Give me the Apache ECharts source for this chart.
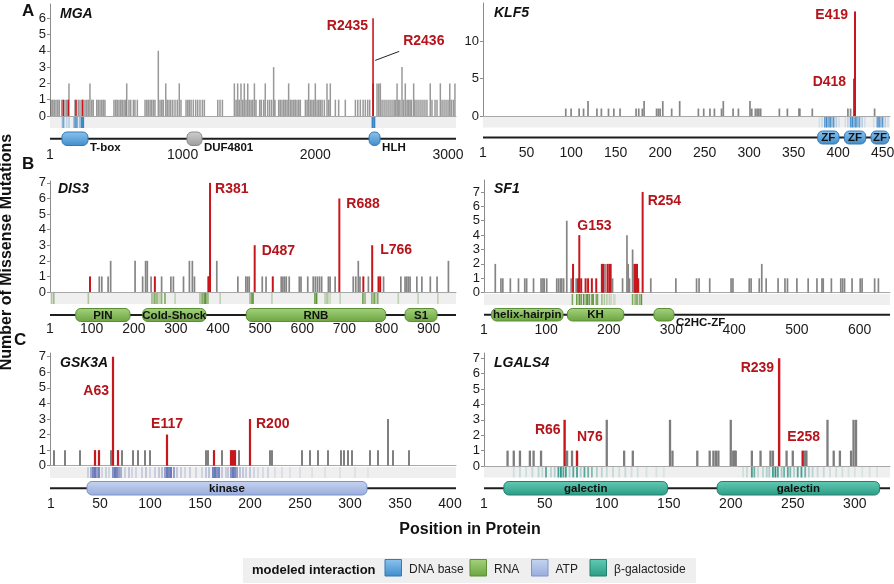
<!DOCTYPE html>
<html><head><meta charset="utf-8">
<script src="https://cdn.jsdelivr.net/npm/echarts@6/dist/echarts.min.js"></script>
<style>html,body{margin:0;padding:0;background:#fff}#c{width:894px;height:584px}</style>
</head><body><div id="c"></div>
<script>
// ---------------- DATA ----------------
const mgaTicks = [1, 1000, 2000, 3000];
const klf5Ticks = [1, 50, 100, 150, 200, 250, 300, 350, 400, 450];
const dis3Ticks = [1, 100, 200, 300, 400, 500, 600, 700, 800, 900];
const sf1Ticks = [1, 100, 200, 300, 400, 500, 600];
const gsk3aTicks = [1, 50, 100, 150, 200, 250, 300, 350, 400];
const lgals4Ticks = [1, 50, 100, 150, 200, 250, 300];
const countTicks7 = [0, 1, 2, 3, 4, 5, 6, 7];
const countTicks6 = [0, 1, 2, 3, 4, 5, 6];
const countTicksKlf5 = [0, 5, 10];

const mgaGrey = [[9,1],[21,1],[33,1],[46,1],[59,1],[71,1],[89,1],[114,1],[127,1],[144,2],[189,1],[214,1],[227,1],[252,1],[265,1],[278,1],[290,1],[302,2],[315,1],[327,1],[353,1],[365,1],[378,1],[391,1],[403,1],[415,1],[483,1],[496,1],[508,1],[521,1],[534,1],[546,1],[559,1],[571,1],[579,2],[596,1],[609,1],[629,1],[641,1],[659,1],[717,1],[730,1],[742,1],[755,1],[767,1],[780,1],[792,1],[817,4],[830,1],[843,1],[855,1],[873,2],[885,1],[898,1],[911,1],[926,1],[943,1],[960,1],[975,2],[988,1],[1026,1],[1039,1],[1051,1],[1064,1],[1081,1],[1099,1],[1114,1],[1131,1],[1149,1],[1164,1],[1265,1],[1282,1],[1300,1],[1390,2],[1403,1],[1415,2],[1427,1],[1440,2],[1453,1],[1465,2],[1478,1],[1491,2],[1503,1],[1516,1],[1528,1],[1541,2],[1553,1],[1581,1],[1593,1],[1611,1],[1623,2],[1641,1],[1656,1],[1671,1],[1686,3],[1696,1],[1724,1],[1736,1],[1749,1],[1762,1],[1774,1],[1787,1],[1799,2],[1812,1],[1824,1],[1837,1],[1849,1],[1862,1],[1875,1],[1887,1],[1925,1],[1938,1],[1950,2],[1963,1],[1975,1],[1988,1],[2000,2],[2013,1],[2026,1],[2038,1],[2051,1],[2068,1],[2088,2],[2101,1],[2113,2],[2151,1],[2176,1],[2226,1],[2302,1],[2320,1],[2339,1],[2360,1],[2377,1],[2395,1],[2410,1],[2465,2],[2478,2],[2490,2],[2503,1],[2518,1],[2533,1],[2548,1],[2563,1],[2578,1],[2593,1],[2604,1],[2616,2],[2627,1],[2638,1],[2653,3],[2665,1],[2678,2],[2691,1],[2702,1],[2714,1],[2725,1],[2741,2],[2751,1],[2766,1],[2781,1],[2796,1],[2811,1],[2826,1],[2841,1],[2866,2],[2879,1],[2902,1],[2917,1],[2942,2],[2955,1],[2970,1],[2985,1],[3000,1],[3013,2],[3025,1],[3040,1],[3052,2]];
const mgaRed = [[101,1],[139,1],[197,1],[244,1],[2436,2],[2435,6]];
const mgaStrip = [[94,0.3],[101,0.5],[106,0.3],[127,0.25],[144,0.3],[182,0.5],[189,0.4],[195,0.6],[202,0.4],[207,0.5],[227,0.5],[240,0.9],[246,0.6],[252,0.95],[2428,0.6],[2433,0.9],[2440,0.5],[2446,0.95]];
const mgaDomains = [[91,287,'T-box'],[1033,1146,'DUF4801'],[2405,2488,'HLH']];
const mgaLabels = [['R2435',2435,6],['R2436',2436,2]];

const klf5Grey = [[94,1],[100,1],[109,1],[114,1],[119,2],[129,1],[134,1],[142,1],[148,1],[155,1],[173,1],[176,1],[180,1],[182,2],[196,1],[198,1],[200,1],[203,2],[213,1],[222,2],[243,1],[249,1],[256,1],[261,1],[269,1],[271,2],[282,1],[288,1],[301,2],[303,1],[307,1],[309,1],[311,1],[313,1],[334,1],[343,1],[356,1],[357,1],[371,1],[411,1],[414,1],[441,1]];
const klf5Red = [[418,5],[419,14]];
const klf5Strip = [[379,0.15],[382,0.2],[385,0.7],[387,0.9],[389,0.6],[391,0.9],[393,0.5],[395,0.8],[398,0.3],[401,0.15],[408,0.15],[411,0.25],[414,0.8],[416,0.9],[418,0.6],[420,0.9],[422,0.5],[424,0.7],[427,0.3],[430,0.15],[440,0.15],[444,0.7],[446,0.9],[448,0.5],[450,0.8],[453,0.3],[456,0.15]];
const klf5Domains = [[377,401,'ZF'],[407,431,'ZF'],[437,457,'ZF']];
const klf5Labels = [['E419',419,14],['D418',418,5]];

const dis3Grey = [[118,1],[124,1],[139,1],[145,2],[203,2],[221,1],[228,2],[232,2],[241,1],[266,1],[288,1],[294,1],[318,1],[332,2],[339,2],[344,1],[397,2],[447,1],[466,1],[470,1],[474,1],[505,1],[514,1],[550,1],[554,1],[558,1],[562,1],[569,1],[593,1],[597,1],[613,1],[626,1],[631,1],[636,1],[641,1],[646,1],[662,1],[666,1],[678,1],[721,1],[727,1],[733,2],[737,1],[757,1],[793,1],[834,1],[844,1],[848,1],[852,1],[856,1],[872,1],[884,1],[904,1],[920,1],[947,2]];
const dis3Red = [[96,1],[250,1],[377,1],[379,1],[381,7],[487,3],[530,1],[688,6],[745,1],[766,3],[781,1],[785,1]];
const dis3Strip = [[5,0.4],[10,0.5],[92,0.4],[243,0.5],[247,0.4],[250,0.6],[254,0.5],[257,0.4],[262,0.3],[266,0.6],[274,0.7],[298,0.3],[357,0.4],[361,0.5],[364,0.6],[368,0.8],[371,0.9],[376,0.6],[405,0.3],[476,0.5],[480,0.7],[483,0.9],[528,0.3],[630,0.8],[634,0.9],[654,0.3],[658,0.35],[661,0.3],[666,0.25],[690,0.3],[744,0.8],[749,0.6],[765,0.6],[769,0.5],[772,0.7],[778,0.5],[780,0.4],[828,0.3],[875,0.3],[922,0.3]];
const dis3Domains = [[62,191,'PIN'],[221,371,'Cold-Shock'],[467,798,'RNB'],[844,920,'S1']];
const dis3Labels = [['R381',381,7],['D487',487,3],['R688',688,6],['L766',766,3]];

const sf1Grey = [[19,2],[28,1],[31,1],[43,1],[56,1],[66,1],[69,1],[80,1],[92,1],[95,1],[97,1],[101,1],[117,1],[120,1],[123,1],[125,1],[128,1],[133,5],[140,1],[148,1],[194,2],[206,1],[222,1],[229,4],[231,2],[233,1],[238,3],[267,1],[307,1],[340,1],[344,1],[361,1],[395,1],[398,1],[424,1],[427,1],[440,1],[444,2],[451,1],[470,1],[481,1],[485,1],[500,1],[518,1],[532,1],[540,1],[542,1],[555,1],[570,1],[573,1],[576,1],[588,1],[601,1],[604,1],[624,1],[630,1]];
const sf1Red = [[143,2],[151,1],[153,4],[156,1],[163,1],[167,1],[173,1],[180,1],[189,2],[191,2],[198,2],[201,2],[203,2],[241,2],[243,2],[245,2],[247,1],[254,7]];
const sf1Strip = [[142,0.7],[149,0.8],[153,0.9],[156,0.8],[160,0.9],[164,0.7],[166,0.9],[169,0.8],[173,0.7],[175,0.9],[180,0.6],[182,0.7],[189,0.5],[193,0.4],[197,0.35],[201,0.3],[204,0.25],[208,0.2],[210,0.15],[238,0.7],[242,0.6],[245,0.8],[249,0.6],[252,0.9]];
const sf1Domains = [[13,127,'helix-hairpin'],[134,224,'KH'],[272,304,'C2HC-ZF']];
const sf1Labels = [['R254',254,7],['G153',153,4]];

const gsk3aGrey = [[4,1],[15,1],[30,1],[61,1],[72,1],[83,1],[88,1],[95,1],[100,1],[156,1],[158,1],[172,1],[189,1],[220,1],[222,1],[252,1],[260,1],[268,1],[278,1],[291,1],[294,1],[298,1],[302,1],[320,1],[328,1],[338,3],[343,1],[359,1]];
const gsk3aRed = [[45,1],[49,1],[63,7],[68,1],[117,2],[164,1],[181,1],[183,1],[185,1],[200,3]];
const gsk3aStrip = [[38,0.25],[41,0.5],[43,0.8],[45,0.9],[47,0.6],[49,0.8],[52,0.2],[56,0.25],[59,0.2],[63,0.7],[65,0.9],[67,0.8],[69,0.6],[71,0.5],[75,0.25],[79,0.3],[82,0.2],[86,0.2],[92,0.25],[96,0.3],[100,0.2],[105,0.25],[109,0.3],[112,0.35],[115,0.6],[117,0.9],[119,0.8],[121,0.9],[124,0.6],[127,0.3],[131,0.25],[135,0.2],[140,0.25],[146,0.2],[152,0.2],[156,0.3],[159,0.35],[163,0.8],[165,0.9],[167,0.7],[169,0.8],[172,0.3],[176,0.25],[178,0.3],[181,0.7],[183,0.9],[185,0.8],[187,0.6],[190,0.35],[193,0.3],[196,0.25],[200,0.3],[204,0.2],[208,0.15],[213,0.15],[218,0.2],[225,0.12],[232,0.12],[240,0.1],[250,0.12],[262,0.1],[275,0.1],[290,0.1],[305,0.1],[318,0.08]];
const gsk3aDomains = [[37,317,'kinase']];
const gsk3aLabels = [['A63',63,7],['E117',117,2],['R200',200,3]];

const lgals4Grey = [[20,1],[25,1],[30,1],[38,1],[41,1],[47,1],[68,1],[72,1],[100,3],[114,1],[121,1],[151,3],[153,1],[173,1],[183,1],[186,1],[188,1],[190,1],[200,3],[202,1],[203,1],[204,1],[217,1],[224,1],[232,1],[234,1],[245,1],[250,1],[260,1],[261,1],[278,3],[283,1],[288,1],[297,1],[299,3],[301,3]];
const lgals4Red = [[66,3],[76,1],[239,7],[258,1]];
const lgals4Strip = [[25,0.15],[30,0.2],[35,0.15],[40,0.2],[45,0.25],[48,0.2],[51,0.7],[55,0.25],[58,0.3],[61,0.8],[63,0.9],[65,0.7],[67,0.8],[70,0.3],[73,0.7],[76,0.8],[79,0.3],[82,0.7],[85,0.6],[88,0.5],[92,0.3],[96,0.25],[100,0.2],[105,0.2],[110,0.15],[115,0.2],[120,0.15],[125,0.15],[132,0.12],[140,0.12],[146,0.1],[210,0.15],[213,0.2],[217,0.8],[219,0.6],[222,0.2],[226,0.25],[229,0.3],[231,0.3],[234,0.8],[236,0.9],[238,0.7],[241,0.35],[243,0.6],[246,0.7],[248,0.5],[251,0.3],[254,0.7],[257,0.8],[260,0.6],[263,0.3],[266,0.25],[270,0.2],[275,0.2],[280,0.15],[285,0.15],[290,0.15],[295,0.12],[300,0.12],[306,0.1],[312,0.12],[318,0.1]];
const lgals4Domains = [[17,149,'galectin'],[189,320,'galectin']];
const lgals4Labels = [['R239',239,7],['R66',66,3],['N76',76,1],['E258',258,1]];

const legendNames = ['DNA base', 'RNA', 'ATP', 'β-galactoside'];

// ---------------- STYLE ----------------
const FONT = '"Liberation Sans", Arial, Helvetica, sans-serif';
const RED = '#c8161d', RED_TXT = '#b5141b';
const theme = {
  dna:  {strip:'#2f7fc4', top:'#8cc4ee', bot:'#3f8ccb', stroke:'#3579b5'},
  rna:  {strip:'#4f8a22', top:'#a6d27f', bot:'#6aa43f', stroke:'#5a8f33'},
  atp:  {strip:'#4b5eaa', top:'#c6d4f1', bot:'#98acdc', stroke:'#7f95c9'},
  gal:  {strip:'#17887a', top:'#62cbb5', bot:'#2c9c84', stroke:'#22806c'},
  none: {strip:'#888',    top:'#cfcfcf', bot:'#9c9c9c', stroke:'#8a8a8a'}
};
const domainTheme = {'DUF4801':'none'};
const outsideLabel = {'T-box':1, 'DUF4801':1, 'HLH':1, 'C2HC-ZF':1};
const annStyle = {
  R2435:{dx:-5,dy:8,align:'right'},
  R2436:{dx:30,dy:-42,align:'left',leader:[2,-23,26,-32]},
  E419:{dx:-7,dy:4,align:'right'},
  D418:{dx:-8,dy:3,align:'right'},
  R381:{dx:5,dy:6,align:'left'},
  D487:{dx:7,dy:6,align:'left'},
  R688:{dx:7,dy:6,align:'left'},
  L766:{dx:8,dy:5,align:'left'},
  R254:{dx:5,dy:9,align:'left'},
  G153:{dx:-2,dy:-9,align:'left'},
  A63:{dx:-4,dy:34,align:'right'},
  E117:{dx:0,dy:-10,align:'center'},
  R200:{dx:6,dy:5,align:'left'},
  R66:{dx:-4,dy:10,align:'right'},
  N76:{dx:0,dy:-13,align:'left'},
  R239:{dx:-5,dy:10,align:'right'},
  E258:{dx:1,dy:-13,align:'center'}
};

const panels = [
  {gene:'MGA', grey:mgaGrey, red:mgaRed, strip:mgaStrip, domains:mgaDomains, labels:mgaLabels, ticks:mgaTicks, yTicks:countTicks6, th:'dna',
   L:{left:50,width:406,xMin:1,xMax:3060,barTop:4,barH:112,yMax:6.87,stripTop:117,stripH:11,domTop:132,domH:13.5,margin:9.5,gw:1.5,gc:'rgba(85,85,85,0.6)',rw:1.6,sw:1.6}},
  {gene:'KLF5', grey:klf5Grey, red:klf5Red, strip:klf5Strip, domains:klf5Domains, labels:klf5Labels, ticks:klf5Ticks, yTicks:countTicksKlf5, th:'dna',
   L:{left:483,width:407,xMin:1,xMax:458.3,barTop:3,barH:113,yMax:15.13,stripTop:117,stripH:10.5,domTop:131,domH:13,margin:9,gw:1.7,gc:'#858585',rw:2,sw:1.6}},
  {gene:'DIS3', grey:dis3Grey, red:dis3Red, strip:dis3Strip, domains:dis3Domains, labels:dis3Labels, ticks:dis3Ticks, yTicks:countTicks7, th:'rna',
   L:{left:50,width:406,xMin:1,xMax:965,barTop:181,barH:111,yMax:7.12,stripTop:293,stripH:11,domTop:308.5,domH:13,margin:8,gw:1.7,gc:'#858585',rw:2,sw:1.6}},
  {gene:'SF1', grey:sf1Grey, red:sf1Red, strip:sf1Strip, domains:sf1Domains, labels:sf1Labels, ticks:sf1Ticks, yTicks:countTicks7, th:'rna',
   L:{left:484,width:406,xMin:1,xMax:648.5,barTop:180,barH:112.7,yMax:7.83,stripTop:294,stripH:11,domTop:308.5,domH:12.5,margin:9,gw:1.7,gc:'#858585',rw:2,sw:1.6}},
  {gene:'GSK3A', grey:gsk3aGrey, red:gsk3aRed, strip:gsk3aStrip, domains:gsk3aDomains, labels:gsk3aLabels, ticks:gsk3aTicks, yTicks:countTicks7, th:'atp',
   L:{left:50,width:406,xMin:0,xMax:406,barTop:353,barH:112.7,yMax:7.24,stripTop:467,stripH:11,domTop:481.5,domH:13.5,margin:9,gw:2,gc:'#808080',rw:2.2,sw:1.8}},
  {gene:'LGALS4', grey:lgals4Grey, red:lgals4Red, strip:lgals4Strip, domains:lgals4Domains, labels:lgals4Labels, ticks:lgals4Ticks, yTicks:countTicks7, th:'gal',
   L:{left:484,width:406,xMin:1,xMax:328.4,barTop:353,barH:113,yMax:7.34,stripTop:467,stripH:10.5,domTop:481.5,domH:13.5,margin:9,gw:2.3,gc:'#7d7d7d',rw:2.4,sw:1.8}}
];

function grad(t){
  return new echarts.graphic.LinearGradient(0,0,0,1,[{offset:0,color:t.top},{offset:1,color:t.bot}]);
}
function barRender(color, w){
  return function(params, api){
    const x = api.value(0), v = api.value(1);
    const a = api.coord([x,0]), b = api.coord([x,v]);
    return {type:'rect', shape:{x:a[0]-w/2, y:b[1], width:w, height:a[1]-b[1]}, style:{fill:color}};
  };
}
function stripRender(color, w){
  return function(params, api){
    const x = api.value(0), s = api.value(1);
    const a = api.coord([x,0]), b = api.coord([x,1]);
    return {type:'rect', shape:{x:a[0]-w/2, y:b[1], width:w, height:a[1]-b[1]}, style:{fill:color, opacity:s}};
  };
}

const grid=[], xAxis=[], yAxis=[], series=[];
panels.forEach((p,i)=>{
  const L = p.L;
  grid[i] = {left:L.left, top:L.barTop, width:L.width, height:L.barH, outerBoundsMode:'none'};
  grid[6+i] = {left:L.left, top:L.stripTop, width:L.width, height:L.stripH, show:true, backgroundColor:'#efefef', borderWidth:0, outerBoundsMode:'none'};
  grid[12+i] = {left:L.left, top:L.domTop, width:L.width, height:L.domH, outerBoundsMode:'none'};
  xAxis[i] = {gridIndex:i, type:'value', min:L.xMin, max:L.xMax, axisLine:{show:true,onZero:true,lineStyle:{color:'#a8a8a8',width:1}}, axisTick:{show:false}, axisLabel:{show:false}, splitLine:{show:false}};
  yAxis[i] = {gridIndex:i, type:'value', min:0, max:L.yMax,
    axisLine:{show:true,lineStyle:{color:'#8c8c8c'}},
    axisTick:{show:true,length:3,customValues:p.yTicks,lineStyle:{color:'#8c8c8c'}},
    axisLabel:{customValues:p.yTicks,fontSize:13,color:'#1a1a1a',margin:4,fontFamily:FONT,formatter:v=>String(v)},
    splitLine:{show:false}};
  xAxis[6+i] = {gridIndex:6+i, type:'value', min:L.xMin, max:L.xMax, show:false};
  yAxis[6+i] = {gridIndex:6+i, type:'value', min:0, max:1, show:false};
  xAxis[12+i] = {gridIndex:12+i, type:'value', min:L.xMin, max:L.xMax, axisLine:{show:false}, axisTick:{show:false}, splitLine:{show:false},
    axisLabel:{customValues:p.ticks, fontSize:14, color:'#1a1a1a', margin:L.margin, verticalAlign:'middle', fontFamily:FONT, formatter:v=>String(v)}};
  yAxis[12+i] = {gridIndex:12+i, type:'value', min:0, max:1, show:false};
  series.push({type:'custom', xAxisIndex:i, yAxisIndex:i, data:p.grey, renderItem:barRender(L.gc, L.gw), z:2, silent:true});
  series.push({type:'custom', xAxisIndex:i, yAxisIndex:i, data:p.red, renderItem:barRender(RED, L.rw), z:3, silent:true});
  const labs = p.labels;
  series.push({type:'custom', xAxisIndex:i, yAxisIndex:i, data:labs.map(l=>[l[1],l[2]]), z:4, silent:true,
    renderItem:function(params, api){
      const l = labs[params.dataIndex], st = annStyle[l[0]];
      const pt = api.coord([api.value(0), api.value(1)]);
      const ch = [{type:'text', x:pt[0]+st.dx, y:pt[1]+st.dy, style:{text:l[0], fill:RED_TXT, fontSize:14, fontWeight:'bold', fontFamily:FONT, align:st.align, verticalAlign:'middle'}}];
      if (st.leader){
        const q = st.leader;
        ch.push({type:'line', shape:{x1:pt[0]+q[0], y1:pt[1]+q[1], x2:pt[0]+q[2], y2:pt[1]+q[3]}, style:{stroke:'#222', lineWidth:1}});
      }
      return {type:'group', children:ch};
    }});
  series.push({type:'custom', xAxisIndex:6+i, yAxisIndex:6+i, data:p.strip, renderItem:stripRender(theme[p.th].strip, L.sw), z:2, silent:true});
  series.push({type:'custom', xAxisIndex:12+i, yAxisIndex:12+i, data:[[L.xMin, L.xMax]], z:1, silent:true,
    renderItem:function(params, api){
      const a = api.coord([api.value(0),0.5]), b = api.coord([api.value(1),0.5]);
      return {type:'line', shape:{x1:a[0],y1:a[1],x2:b[0],y2:b[1]}, style:{stroke:'#1e1e1e', lineWidth:2}};
    }});
  const doms = p.domains;
  series.push({type:'custom', xAxisIndex:12+i, yAxisIndex:12+i, data:doms.map(d=>[d[0],d[1]]), z:3, silent:true,
    renderItem:function(params, api){
      const d = doms[params.dataIndex];
      const t = theme[domainTheme[d[2]] || p.th];
      const a = api.coord([api.value(0),1]), b = api.coord([api.value(1),0]);
      const w = b[0]-a[0], h = b[1]-a[1];
      const ch = [{type:'rect', shape:{x:a[0], y:a[1], width:w, height:h, r:5}, style:{fill:grad(t), stroke:t.stroke, lineWidth:1}}];
      if (outsideLabel[d[2]]) {
        ch.push({type:'text', x:b[0]+2, y:b[1]+2, style:{text:d[2], fill:'#111', fontSize:11.5, fontWeight:'bold', fontFamily:FONT, align:'left', verticalAlign:'middle'}});
      } else {
        ch.push({type:'text', x:a[0]+w/2, y:a[1]+h/2+0.5, style:{text:d[2], fill:'#111', fontSize:11.5, fontWeight:'bold', fontFamily:FONT, align:'center', verticalAlign:'middle'}});
      }
      return {type:'group', children:ch};
    }});
});

// ---------------- TEXT / LEGEND GRAPHICS ----------------
const titlePos = [[60,15],[494,14],[58,190],[494,190],[60,364],[494,364]];
const graphic = [];
panels.forEach((p,i)=>{
  graphic.push({type:'text', left:titlePos[i][0], top:titlePos[i][1]-8, style:{text:p.gene, fill:'#111', font:'italic bold 14px '+FONT}});
});
[['A',22,3],['B',22,156],['C',14,332]].forEach(a=>{
  graphic.push({type:'text', left:a[1], top:a[2], style:{text:a[0], fill:'#111', font:'bold 17px '+FONT}});
});
graphic.push({type:'text', x:7, y:252, rotation:Math.PI/2, style:{text:'Number of Missense Mutations', fill:'#111', font:'bold 16px '+FONT, align:'center', verticalAlign:'middle'}});
graphic.push({type:'text', x:470, y:530, style:{text:'Position in Protein', fill:'#111', font:'bold 16px '+FONT, align:'center', verticalAlign:'middle'}});
graphic.push({type:'rect', shape:{x:243, y:558, width:453, height:25}, style:{fill:'#efefef'}});
graphic.push({type:'text', x:252, y:570, style:{text:'modeled interaction', fill:'#111', font:'bold 13px '+FONT, verticalAlign:'middle'}});
const swX = [385, 470, 531.5, 590];
const legTh = ['dna','rna','atp','gal'];
legendNames.forEach((n,k)=>{
  const t = theme[legTh[k]];
  graphic.push({type:'rect', shape:{x:swX[k], y:559.5, width:16.5, height:16.5}, style:{fill:grad(t), stroke:t.stroke, lineWidth:1}});
  graphic.push({type:'text', x:swX[k]+24, y:570, style:{text:n, fill:'#222', font:'12px '+FONT, verticalAlign:'middle'}});
});

const chart = echarts.init(document.getElementById('c'), null, {renderer:'canvas'});
chart.setOption({animation:false, backgroundColor:'#fff', grid, xAxis, yAxis, series, graphic});
</script></body></html>
